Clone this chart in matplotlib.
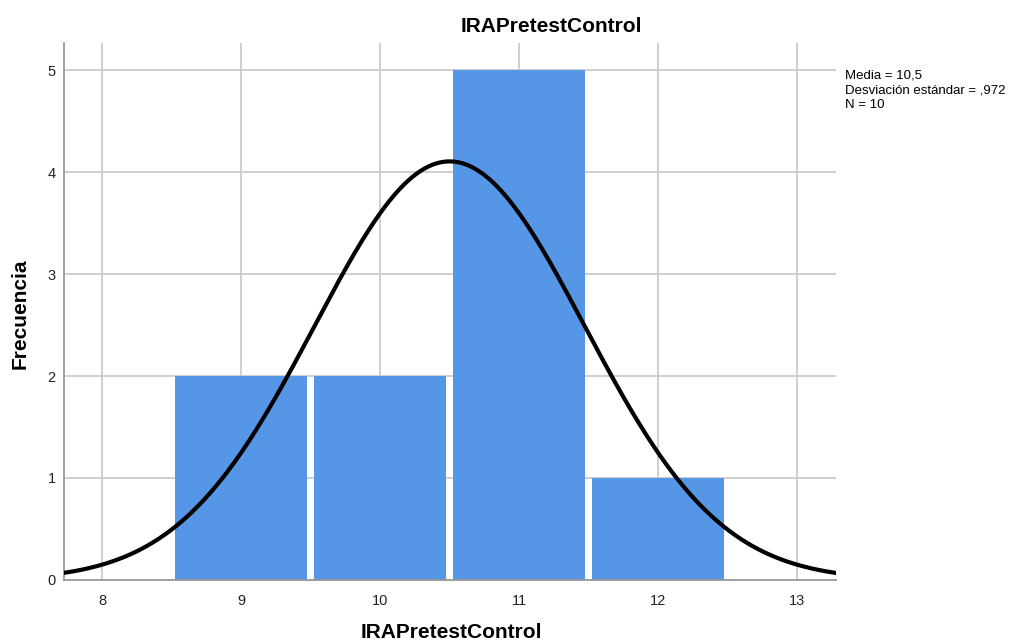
import numpy as np
import matplotlib
matplotlib.use("Agg")
import matplotlib.pyplot as plt

plt.rcParams['font.family'] = ['Liberation Sans', 'DejaVu Sans']

# datos del histograma
bin_centers = [9, 10, 11, 12]
counts = [2, 2, 5, 1]
bin_width = 1.0
media = 10.5
desv = 0.972
n = 10
x_ticks = [8, 9, 10, 11, 12, 13]
y_ticks = [0, 1, 2, 3, 4, 5]

fig = plt.figure(figsize=(10.26, 6.44), dpi=100)
ax = fig.add_axes([0.0624, 0.0994, 0.7524, 0.8338])

ax.bar(bin_centers, counts, width=0.945 * bin_width, color='#5596e6',
       linewidth=0, zorder=2)

# curva normal ajustada
xs = np.linspace(7.726, 13.28, 400)
ys = n * bin_width / (desv * np.sqrt(2 * np.pi)) * np.exp(-0.5 * ((xs - media) / desv) ** 2)
ax.plot(xs, ys, color='black', linewidth=3, zorder=3)

ax.set_xlim(7.726, 13.28)
ax.set_ylim(0, 5.265)
ax.set_xticks(x_ticks)
ax.set_yticks(y_ticks)
ax.tick_params(axis='x', length=0, labelsize=10.5, colors='#222222', pad=10)
ax.tick_params(axis='y', length=0, labelsize=10.5, colors='#222222', pad=6)
ax.grid(True, color='#cccccc', linewidth=1.3, zorder=0)
ax.set_axisbelow(True)
for s in ['top', 'right']:
    ax.spines[s].set_visible(False)
for s in ['left', 'bottom']:
    ax.spines[s].set_color('#999999')
    ax.spines[s].set_linewidth(1.3)

fig.text(451 / 1026, 1 - 633 / 644, 'IRAPretestControl', fontsize=15,
         fontweight='bold', ha='center', va='center')
fig.text(20 / 1026, 1 - 314 / 644, 'Frecuencia', fontsize=15,
         fontweight='bold', ha='center', va='center', rotation=90)
fig.text(551 / 1026, 1 - 27 / 644, 'IRAPretestControl', fontsize=15,
         fontweight='bold', ha='center', va='center')
fig.text(845 / 1026, 1 - 70 / 644,
         'Media = 10,5\nDesviación estándar = ,972\nN = 10',
         fontsize=9.5, ha='left', va='top', linespacing=1.3)

fig.savefig('out.png', dpi=100)
